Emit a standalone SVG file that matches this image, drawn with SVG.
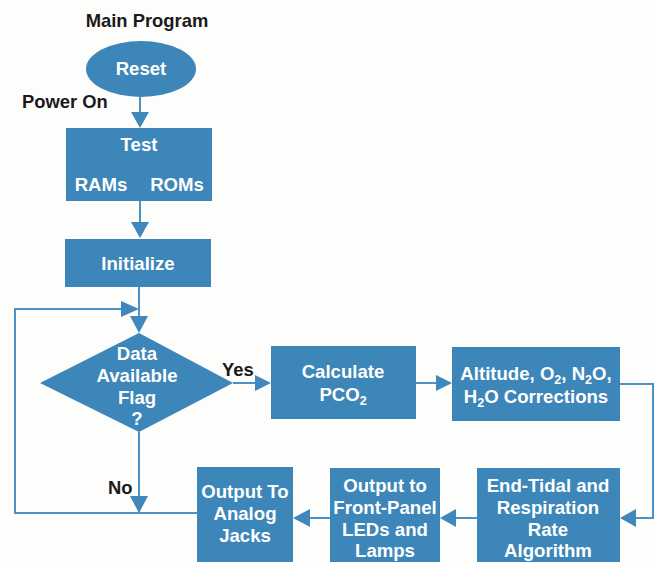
<svg xmlns="http://www.w3.org/2000/svg" width="655" height="562" viewBox="0 0 655 562">
  <style>
    .box { fill: #3d86b9; }
    .lbl { font-family: "Liberation Sans", Arial, sans-serif; font-weight: bold; font-size: 18.6px; fill: #ffffff; text-anchor: middle; }
    .cap { font-family: "Liberation Sans", Arial, sans-serif; font-weight: bold; font-size: 18.4px; fill: #1a1a1a; }
    .sub { font-size: 12.5px; }
    .wire { fill: none; stroke: #4b93c6; stroke-width: 2; }
    .head { fill: #4088bb; }
  </style>
  <rect width="655" height="562" fill="#fdfdfb"/>

  <text class="cap" x="147" y="27" text-anchor="middle">Main Program</text>
  <text class="cap" x="22" y="108">Power On</text>

  <!-- connectors -->
  <g id="connectors">
    <path class="wire" d="M140 97 V114"/>
    <path class="head" d="M131 112 H149 L140 128 Z"/>
    <path class="wire" d="M140 201 V224"/>
    <path class="head" d="M131 222 H149 L140 238 Z"/>
    <path class="wire" d="M139 287 V318"/>
    <path class="head" d="M130 316 H148 L139 333 Z"/>
    <!-- loop back -->
    <path class="wire" d="M139 432 V513 M197 513 H15 V309 H124"/>
    <path class="head" d="M121 301 L139 309 L121 317 Z"/>
    <path class="head" d="M130 496 H148 L139 513 Z"/>
    <!-- yes branch -->
    <path class="wire" d="M233 383 H257"/>
    <path class="head" d="M255 375 L271 383 L255 391 Z"/>
    <path class="wire" d="M416 383 H438"/>
    <path class="head" d="M436 375 L452 383 L436 391 Z"/>
    <path class="wire" d="M620 384 H653 V518 H634"/>
    <path class="head" d="M636 509 L620 518 L636 527 Z"/>
    <path class="wire" d="M477 518 H454"/>
    <path class="head" d="M456 509 L440 518 L456 527 Z"/>
    <path class="wire" d="M330 518 H308"/>
    <path class="head" d="M310 509 L293 518 L310 527 Z"/>
  </g>

  <g id="reset">
    <ellipse class="box" cx="141" cy="69" rx="55" ry="28"/>
    <text class="lbl" x="141" y="75">Reset</text>
  </g>

  <g id="test">
    <rect class="box" x="66" y="128" width="146" height="73"/>
    <text class="lbl" x="139" y="151">Test</text>
    <text class="lbl" x="101" y="191">RAMs</text>
    <text class="lbl" x="177" y="191">ROMs</text>
  </g>

  <g id="initialize">
    <rect class="box" x="65" y="239" width="146" height="48"/>
    <text class="lbl" x="138" y="270">Initialize</text>
  </g>

  <g id="data-flag">
    <path class="box" d="M139 333 L233 383 L139 432 L40 383 Z"/>
    <text class="lbl" x="137" y="360">Data</text>
    <text class="lbl" x="137" y="382">Available</text>
    <text class="lbl" x="137" y="404">Flag</text>
    <text class="lbl" x="137" y="425">?</text>
  </g>
  <text class="cap" x="222" y="376">Yes</text>
  <text class="cap" x="108" y="494">No</text>

  <g id="calculate">
    <rect class="box" x="271" y="346" width="145" height="73"/>
    <text class="lbl" x="343" y="378">Calculate</text>
    <text class="lbl" x="343" y="401">PCO<tspan class="sub" dy="4">2</tspan></text>
  </g>

  <g id="corrections">
    <rect class="box" x="452" y="347" width="168" height="74"/>
    <text class="lbl" x="536" y="380">Altitude, O<tspan class="sub" dy="4">2</tspan><tspan dy="-4">, N</tspan><tspan class="sub" dy="4">2</tspan><tspan dy="-4">O,</tspan></text>
    <text class="lbl" x="536" y="403">H<tspan class="sub" dy="4">2</tspan><tspan dy="-4">O Corrections</tspan></text>
  </g>

  <g id="end-tidal">
    <rect class="box" x="477" y="468" width="143" height="94"/>
    <text class="lbl" x="548" y="492">End-Tidal and</text>
    <text class="lbl" x="548" y="514">Respiration</text>
    <text class="lbl" x="548" y="536">Rate</text>
    <text class="lbl" x="548" y="557">Algorithm</text>
  </g>

  <g id="front-panel">
    <rect class="box" x="330" y="468" width="110" height="94"/>
    <text class="lbl" x="385" y="492">Output to</text>
    <text class="lbl" x="385" y="514">Front-Panel</text>
    <text class="lbl" x="385" y="536">LEDs and</text>
    <text class="lbl" x="385" y="557">Lamps</text>
  </g>

  <g id="analog-jacks">
    <rect class="box" x="197" y="467" width="96" height="95"/>
    <text class="lbl" x="245" y="498">Output To</text>
    <text class="lbl" x="245" y="520">Analog</text>
    <text class="lbl" x="245" y="542">Jacks</text>
  </g>
</svg>
